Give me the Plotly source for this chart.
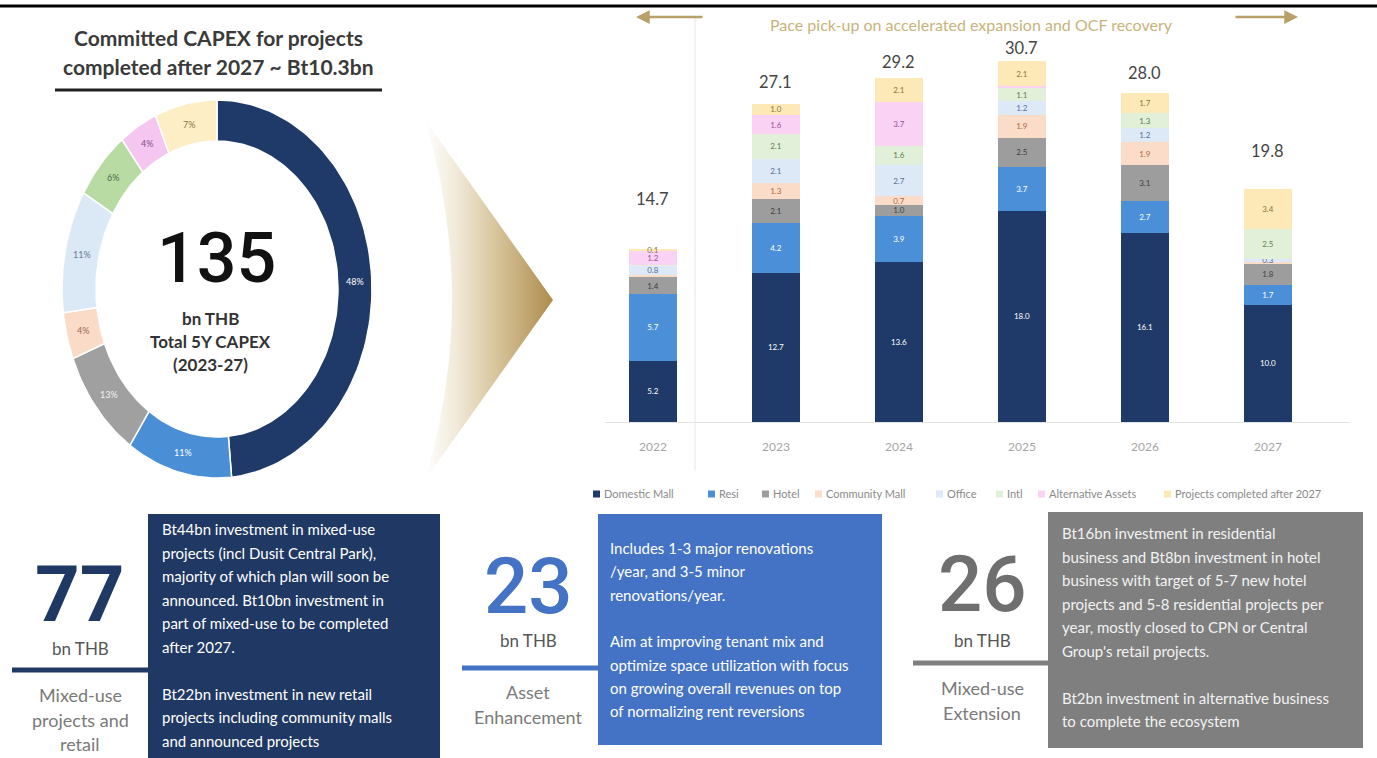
import math
import plotly.graph_objects as go

# ---------------- data ----------------
years = ["2022", "2023", "2024", "2025", "2026", "2027"]
series_names = ["Domestic Mall", "Resi", "Hotel", "Community Mall", "Office",
                "Intl", "Alternative Assets", "Projects completed after 2027"]
domestic_mall = [5.2, 12.7, 13.6, 18.0, 16.1, 10.0]
resi = [5.7, 4.2, 3.9, 3.7, 2.7, 1.7]
hotel = [1.4, 2.1, 1.0, 2.5, 3.1, 1.8]
community_mall = [0.2, 1.3, 0.7, 1.9, 1.9, 0.1]
office = [0.8, 2.1, 2.7, 1.2, 1.2, 0.3]
intl = [0.1, 2.1, 1.6, 1.1, 1.3, 2.5]
alternative_assets = [1.2, 1.6, 3.7, 0.2, 0.0, 0.0]
projects_after_2027 = [0.1, 1.0, 2.1, 2.1, 1.7, 3.4]
totals = [14.7, 27.1, 29.2, 30.7, 28.0, 19.8]

donut_labels = ["48%", "11%", "13%", "4%", "11%", "6%", "4%", "7%"]
donut_shares = [48.5, 11.0, 9.5, 4.0, 10.5, 6.0, 4.0, 6.5]   # drawn arc sizes

series_values = [domestic_mall, resi, hotel, community_mall, office, intl,
                 alternative_assets, projects_after_2027]

# ---------------- styles ----------------
bar_colors = ["#1f3a68", "#4b8fd8", "#9d9d9d", "#fbdcc8", "#dde9f6", "#e2f0da", "#f9d2f4", "#fde9b8"]
bar_text_colors = ["#ffffff", "#ffffff", "#3d3d3d", "#b06a40", "#55709a", "#5d7e4e", "#a14d9b", "#8e7434"]
donut_colors = ["#1f3a68", "#4a8fd6", "#a0a0a0", "#fadbc8", "#dbe8f5", "#b8dba4", "#f4c6f0", "#fdeec6"]
donut_text_colors = ["#ffffff", "#ffffff", "#f2f2f2", "#9a6a50", "#6a7b95", "#4f6b45", "#8a4a86", "#8a7440"]

W, H = 1377, 758
FONT = "Lato, Open Sans, sans-serif"
BIG = "Roboto, Lato, sans-serif"
PX_PER_UNIT = 11.75

fig = go.Figure()

# ---------------- stacked bars ----------------
for i, name in enumerate(series_names):
    vals = series_values[i]
    txt = []
    for v in vals:
        show = v >= 0.3 or (i == len(series_names) - 1 and v > 0)
        txt.append(f"{v:.1f}" if show else "")
    fig.add_trace(go.Bar(
        x=years, y=vals, name=name, marker_color=bar_colors[i], marker_line_width=0,
        width=0.39, text=txt, textposition="inside", insidetextanchor="middle",
        textangle=0, textfont=dict(size=8, color=bar_text_colors[i], family=FONT),
        showlegend=False, hoverinfo="x+y+name", xaxis="x", yaxis="y"))

for idx, t in enumerate(totals):
    fig.add_annotation(x=idx, y=t, xref="x", yref="y", text=f"{t:.1f}", showarrow=False,
                       yshift=84 - 2.3 * t, font=dict(size=16.5, color="#454545", family=FONT))

# ---------------- pixel-space helpers ----------------
def px_ann(x, y, text, size, color, bold=False, family=FONT, xanchor="center", yanchor="middle", weight=None):
    f = dict(size=size, color=color, family=family)
    if weight is not None:
        f["weight"] = weight
    fig.add_annotation(x=x, y=y, xref="x2", yref="y2", text=(f"<b>{text}</b>" if bold else text),
                       showarrow=False, xanchor=xanchor, yanchor=yanchor, font=f)

def px_line(x0, y0, x1, y1, color, width):
    fig.add_shape(type="line", xref="x2", yref="y2", x0=x0, y0=y0, x1=x1, y1=y1,
                  line=dict(color=color, width=width))

def px_rect(x0, y0, x1, y1, color):
    fig.add_shape(type="rect", xref="x2", yref="y2", x0=x0, y0=y0, x1=x1, y1=y1,
                  fillcolor=color, line=dict(width=0), layer="below")

# ---------------- donut (elliptical, drawn from shares) ----------------
cx, cy = 217, 289
a_out, b_out = 155, 189
a_in, b_in = 121, 148
total_share = sum(donut_shares)
start = 0.0
for i, s in enumerate(donut_shares):
    th0 = start / total_share * 2 * math.pi
    th1 = (start + s) / total_share * 2 * math.pi
    n = max(8, int(s * 2))
    angs = [th0 + (th1 - th0) * k / n for k in range(n + 1)]
    xs = [cx + a_out * math.sin(t) for t in angs] + [cx + a_in * math.sin(t) for t in reversed(angs)]
    ys = [cy - b_out * math.cos(t) for t in angs] + [cy - b_in * math.cos(t) for t in reversed(angs)]
    xs.append(xs[0]); ys.append(ys[0])
    fig.add_trace(go.Scatter(x=xs, y=ys, xaxis="x2", yaxis="y2", mode="lines", fill="toself",
                             fillcolor=donut_colors[i], line=dict(color="white", width=1.5),
                             showlegend=False, hoverinfo="text",
                             text=f"{series_names[i]}: {donut_labels[i]}"))
    tm = (th0 + th1) / 2
    am, bm = (a_out + a_in) / 2, (b_out + b_in) / 2
    px_ann(cx + am * math.sin(tm), cy - bm * math.cos(tm), donut_labels[i], 9, donut_text_colors[i])
    start += s

px_ann(216, 258, "135", 70, "#111111", family=BIG, weight=500)
px_ann(210, 318, "bn THB", 17, "#333333", bold=True)
px_ann(210, 341, "Total 5Y CAPEX", 17, "#333333", bold=True)
px_ann(210, 364, "(2023-27)", 17, "#333333", bold=True)

# title over donut
px_ann(218, 37, "Committed CAPEX for projects", 21, "#3a3a3a", bold=True)
px_ann(218, 66, "completed after 2027 ~ Bt10.3bn", 21, "#3a3a3a", bold=True)
px_line(55, 90, 382, 90, "#222222", 3)

# ---------------- gold chevron arrow ----------------
arr_x, arr_y = [423, 553, 427], [117, 300, 477]
for k in range(1, 40):
    t = 1 - 2 * k / 40
    arr_x.append(425 + 27 * (1 - t * t))
    arr_y.append(300 + t * 180)
arr_x.append(423); arr_y.append(117)
fig.add_trace(go.Scatter(x=arr_x, y=arr_y, xaxis="x2", yaxis="y2", mode="lines", fill="toself",
                         line=dict(width=0, color="rgba(0,0,0,0)"),
                         fillgradient=dict(type="horizontal", start=425, stop=553,
                                           colorscale=[[0, "#ffffff"], [0.25, "#f1e9d8"],
                                                       [0.6, "#d3bf93"], [1, "#ae8c4d"]]),
                         showlegend=False, hoverinfo="skip"))

# ---------------- bar chart decorations ----------------
px_line(0, 6, W, 6, "#000000", 3)
px_line(695, 18, 695, 470, "#e6e6e6", 1)
px_ann(971, 24, "Pace pick-up on accelerated expansion and OCF recovery", 16, "#c9b27c")
for head, tail in [(636, 704), (1298, 1234)]:
    fig.add_annotation(x=head, y=17, ax=tail, ay=17, xref="x2", yref="y2", axref="x2", ayref="y2",
                       text="", showarrow=True, arrowhead=2, arrowsize=1.1, arrowwidth=2.5,
                       arrowcolor="#b9a06a")

# legend (manual)
legend_x = [593, 708, 762, 815, 936, 996, 1038, 1164]
fig.add_trace(go.Scatter(x=[lx + 3.5 for lx in legend_x], y=[494] * len(legend_x), xaxis="x2", yaxis="y2",
                         mode="markers", marker=dict(symbol="square", size=7, color=bar_colors, line=dict(width=0)),
                         showlegend=False, hoverinfo="skip"))
for lx, name in zip(legend_x, series_names):
    px_ann(lx + 9, 493, name, 11, "#8a8a8a", xanchor="left")

# ---------------- bottom panels ----------------
panels = [
    dict(num="77", numcolor="#1f3864", box=(148, 514, 440, 758), boxcolor="#1f3864", cx=80,
         numy=594, bny=648, liney=670, linex=(12, 148), caps=["Mixed-use", "projects and", "retail"], capy=695,
         textx=160, texty=529, step=23.5, textcolor="#ffffff", weight=700,
         lines=["Bt44bn investment in mixed-use", "projects (incl Dusit Central Park),",
                "majority of which plan will soon be", "announced. Bt10bn investment in",
                "part of mixed-use to be completed", "after 2027.", "",
                "Bt22bn investment in new retail", "projects including community malls",
                "and announced projects"]),
    dict(num="23", numcolor="#4472c4", box=(598, 514, 882, 745), boxcolor="#4472c4", cx=528,
         numy=586, bny=640, liney=668, linex=(462, 598), caps=["Asset", "Enhancement"], capy=692,
         textx=608, texty=548, step=23.3, textcolor="#ffffff", weight=500,
         lines=["Includes 1-3 major renovations", "/year, and 3-5 minor", "renovations/year.", "",
                "Aim at improving tenant mix and", "optimize space utilization with focus",
                "on growing overall revenues on top", "of normalizing rent reversions"]),
    dict(num="26", numcolor="#6f6f6f", box=(1048, 512, 1363, 748), boxcolor="#7f7f7f", cx=982,
         numy=584, bny=640, liney=663, linex=(913, 1048), caps=["Mixed-use", "Extension"], capy=688,
         textx=1060, texty=533, step=23.5, textcolor="#f2f2f2", weight=500,
         lines=["Bt16bn investment in residential", "business and Bt8bn investment in hotel",
                "business with target of 5-7 new hotel", "projects and 5-8 residential projects per",
                "year, mostly closed to CPN or Central", "Group's retail projects.", "",
                "Bt2bn investment in alternative business", "to complete the ecosystem"]),
]
for p in panels:
    x0, y0, x1, y1 = p["box"]
    px_rect(x0, y0, x1, y1, p["boxcolor"])
    px_ann(p["cx"], p["numy"], p["num"], 78, p["numcolor"], family=BIG, weight=p["weight"])
    px_ann(p["cx"], p["bny"], "bn THB", 17, "#555555")
    px_line(p["linex"][0], p["liney"], p["linex"][1], p["liney"], p["boxcolor"], 5)
    for k, c in enumerate(p["caps"]):
        px_ann(p["cx"], p["capy"] + 24.5 * k, c, 18, "#7a7a7a")
    for k, ln in enumerate(p["lines"]):
        if ln:
            px_ann(p["textx"], p["texty"] + p["step"] * k, ln, 15, p["textcolor"], xanchor="left")

# ---------------- layout ----------------
y_bottom = 1 - 422 / H
y_max = 33.8
fig.update_layout(
    width=W, height=H, margin=dict(l=0, r=0, t=0, b=0),
    paper_bgcolor="white", plot_bgcolor="rgba(0,0,0,0)",
    barmode="stack", font=dict(family=FONT),
    uniformtext=dict(minsize=8, mode="show"),
    xaxis=dict(domain=[605 / W, 1350 / W], type="category", range=[-0.39, 5.667],
               showline=True, linecolor="#e3e3e3", linewidth=1, ticks="", showgrid=False,
               tickfont=dict(size=12, color="#a5a5a5", family=FONT), ticklabelstandoff=14,
               anchor="y", fixedrange=True),
    yaxis=dict(domain=[y_bottom, y_bottom + y_max * PX_PER_UNIT / H], range=[0, y_max], visible=False,
               showgrid=False, zeroline=False, anchor="x", fixedrange=True),
    xaxis2=dict(domain=[0, 1], range=[0, W], visible=False, anchor="y2", fixedrange=True),
    yaxis2=dict(domain=[0, 1], range=[H, 0], visible=False, anchor="x2", fixedrange=True),
    showlegend=False,
)

fig.write_html("out.html", config={"displayModeBar": False},
               post_script="document.body.style.margin='0px';document.body.style.overflow='hidden';")
